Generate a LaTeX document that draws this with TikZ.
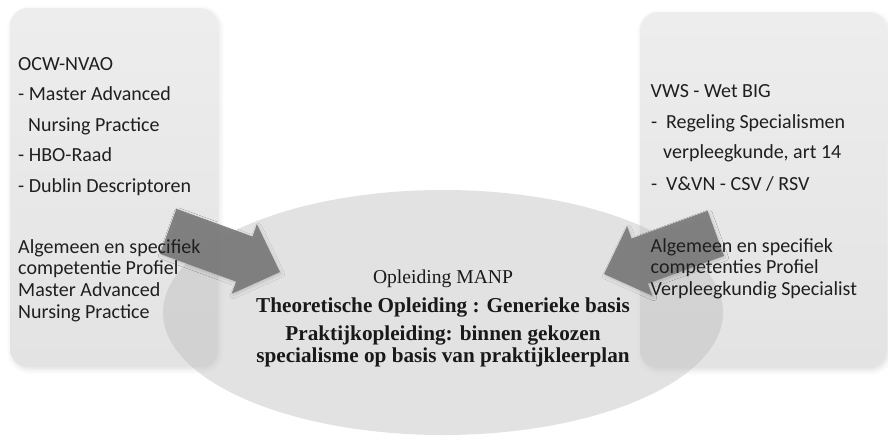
\documentclass[tikz,border=0pt]{standalone}
\usepackage{fontspec}
\setmainfont{Liberation Serif}
\setsansfont{Carlito}
\usetikzlibrary{shapes.geometric,shadows.blur}
\tikzset{
  panel/.style={rectangle, rounded corners=18pt, inner sep=0pt, top color=black!7, bottom color=black!11, draw=none,
    blur shadow={shadow xshift=1.5pt, shadow yshift=-2.5pt, shadow opacity=12, shadow blur radius=5pt}},
  oval/.style={ellipse, inner sep=0pt, fill=black!26, fill opacity=0.44, draw=none},
  blockarrow/.style={fill=black!52, fill opacity=0.92, draw=none,
    blur shadow={shadow xshift=1.5pt, shadow yshift=-2pt, shadow opacity=15, shadow blur radius=3pt}},
  boxtxt/.style={anchor=base west, inner sep=0pt, font=\sffamily\fontsize{20}{24}\selectfont, text=black!88},
  midreg/.style={anchor=base, inner sep=0pt, font=\rmfamily\fontsize{19.6}{22}\selectfont, text=black!90},
  midbold/.style={anchor=base, inner sep=0pt, font=\rmfamily\bfseries\fontsize{21.2}{22}\selectfont, text=black!90},
}
\begin{document}
\begin{tikzpicture}[x=1pt,y=-1pt]
\useasboundingbox (0,0) rectangle (888,439);
% panels
\node[panel, minimum width=208pt, minimum height=359pt] (lbox) at (114,187.5) {};
\node[panel, minimum width=247pt, minimum height=356pt] (rbox) at (763.5,190) {};
% central ellipse
\node[oval, minimum width=560pt, minimum height=245pt] (core) at (443,312.5) {};
% block arrows
\path[blockarrow] (176.4,208.8) coordinate (la1) -- (252.5,236.5) -- (256.9,224.2) -- (280,272) coordinate (latip)
  -- (231.6,293.8) -- (236.1,281.6) -- (160.0,253.9) -- cycle;
\path[blockarrow] (707.6,210.8) coordinate (ra1) -- (631.5,238.5) -- (627.1,226.2) -- (604,274) coordinate (ratip)
  -- (652.4,295.8) -- (647.9,283.6) -- (724,255.9) -- cycle;
% left text
\node[boxtxt] (l1) at (18,70) {OCW-NVAO};
\node[boxtxt] (l2) at (18,100.5) {- Master Advanced};
\node[boxtxt] (l3) at (28,131) {Nursing Practice};
\node[boxtxt] (l4) at (18,161.5) {- HBO-Raad};
\node[boxtxt] (l5) at (18,192) {- Dublin Descriptoren};
\node[boxtxt] (l6) at (18,253) {Algemeen en specifiek};
\node[boxtxt] (l7) at (18,274.7) {competentie Profiel};
\node[boxtxt] (l8) at (18,296.4) {Master Advanced};
\node[boxtxt] (l9) at (18,318) {Nursing Practice};
% right text
\node[boxtxt] (r1) at (650.5,97) {VWS - Wet BIG};
\node[boxtxt] (r2) at (651,128) {-\hspace{8.9pt}Regeling Specialismen};
\node[boxtxt] (r3) at (663,158.5) {verpleegkunde, art 14};
\node[boxtxt] (r4) at (651,190) {-\hspace{8.9pt}V\&VN - CSV / RSV};
\node[boxtxt] (r5) at (650.5,252) {Algemeen en specifiek};
\node[boxtxt] (r6) at (650.5,273.5) {competenties Profiel};
\node[boxtxt] (r7) at (650.5,295) {Verpleegkundig Specialist};
% centre text
\node[midreg] (c1) at (443,283) {Opleiding MANP};
\node[midbold] (c2) at (443,312) {Theoretische Opleiding : Generieke basis};
\node[midbold] (c3) at (443,340) {Praktijkopleiding: binnen gekozen};
\node[midbold] (c4) at (443,362) {specialisme op basis van praktijkleerplan};
\end{tikzpicture}
\end{document}
